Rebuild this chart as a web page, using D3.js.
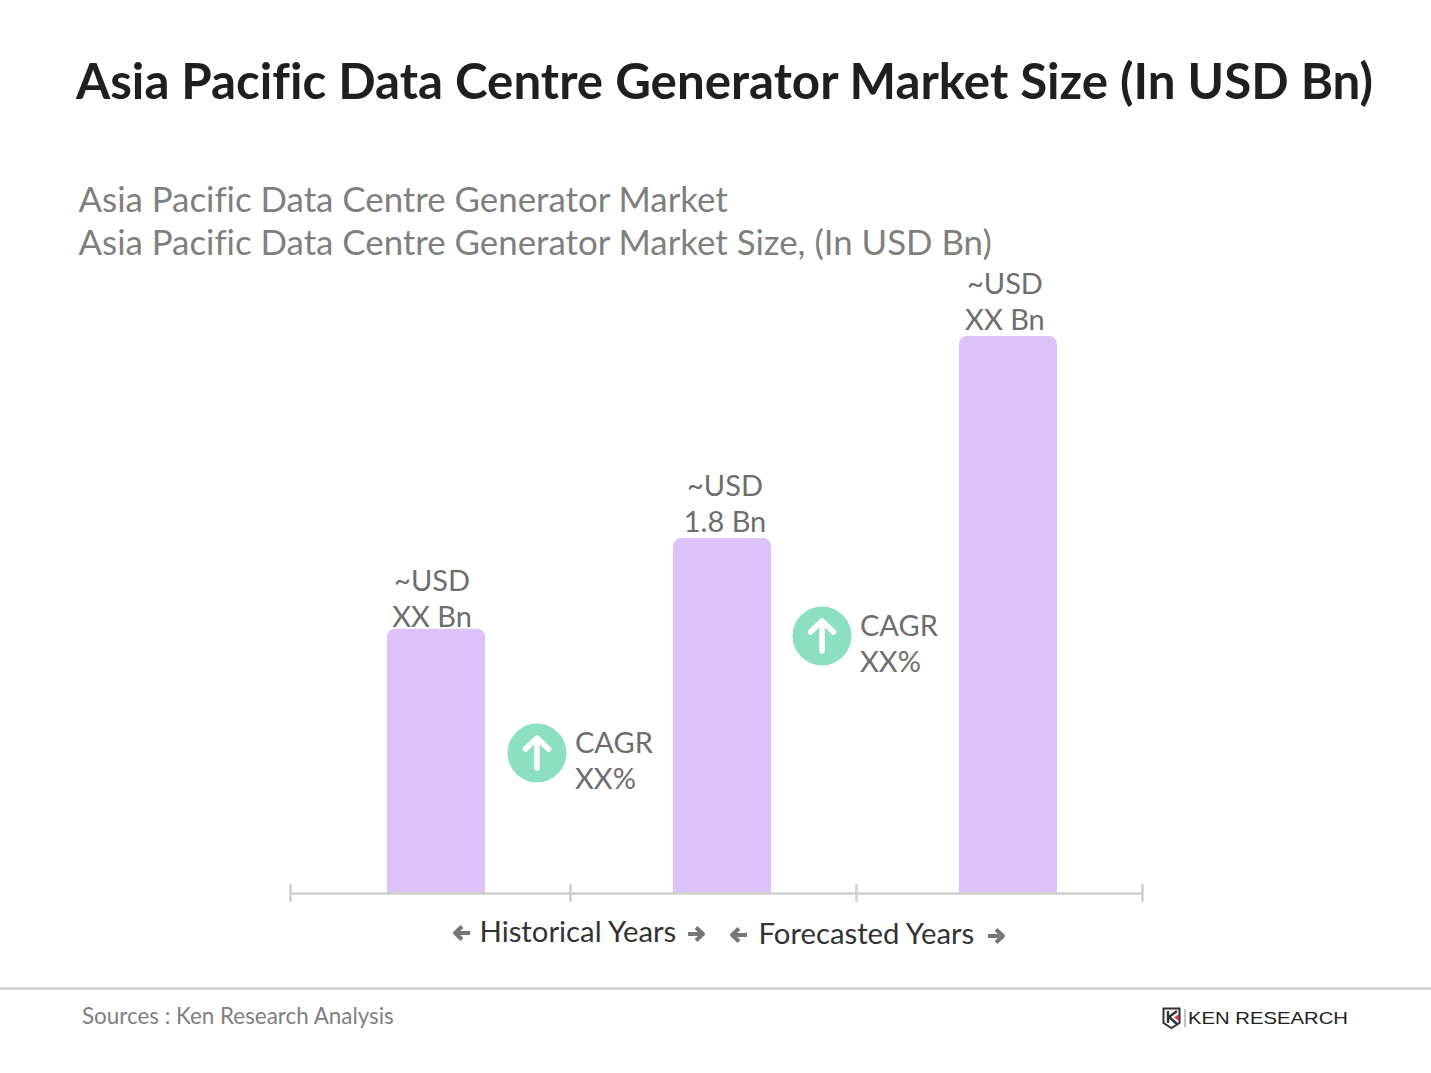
<!DOCTYPE html>
<html><head><meta charset="utf-8">
<script src="https://cdn.jsdelivr.net/npm/d3@7"></script>
<style>html,body{margin:0;padding:0;background:#fff}svg{display:block}text{font-family:Lato,sans-serif;font-variant-ligatures:none}</style>
</head><body><svg id="c" width="1431" height="1073"></svg>
<script>
const chartTitle = "Asia Pacific Data Centre Generator Market Size (In USD Bn)";
const subtitles = ["Asia Pacific Data Centre Generator Market", "Asia Pacific Data Centre Generator Market Size, (In USD Bn)"];
const categories = ["Base", "Current", "Forecast"];
const values = [1.34, 1.8, 2.825];
const barLabels = [["~USD", "XX Bn"], ["~USD", "1.8 Bn"], ["~USD", "XX Bn"]];
const cagrLabels = [["CAGR", "XX%"], ["CAGR", "XX%"]];
const periodLabels = ["Historical Years", "Forecasted Years"];
const source = "Sources : Ken Research Analysis";

const svg = d3.select("#c");
const baseY = 893;
const x = d3.scaleBand().domain(categories).range([293, 1151]).paddingInner(0.657).paddingOuter(0.3287);
const y = d3.scaleLinear().domain([0, 3]).range([baseY, baseY - 3 * 197.2]);
const edge = d3.scaleLinear().domain([0, 1, 3]).range([290, 570, 1142]);
const labelDx = [-4, 3, -3];
const labelDy = [-38, -42, -41.5];

svg.append("text").attr("x", 76).attr("y", 98.5).attr("font-size", 49.27).attr("font-weight", 700)
  .attr("fill", "#1f1f1f").text(chartTitle);
svg.append("g").selectAll("text").data(subtitles).join("text")
  .attr("x", 78.5).attr("y", (d, i) => 212 + i * 43).attr("font-size", 34.85).attr("fill", "#7f7f7f").text(d => d);

// bars
const r = 8;
svg.append("g").selectAll("path").data(categories).join("path")
  .attr("fill", "#dcc2f7")
  .attr("d", (c, i) => {
    const l = x(c), w = x.bandwidth(), t = y(values[i]);
    const p = d3.path();
    p.moveTo(l, baseY); p.lineTo(l, t + r); p.arcTo(l, t, l + r, t, r);
    p.lineTo(l + w - r, t); p.arcTo(l + w, t, l + w, t + r, r); p.lineTo(l + w, baseY); p.closePath();
    return p.toString();
  });

// bar labels
categories.forEach((c, i) => {
  const cx = x(c) + x.bandwidth() / 2 + labelDx[i];
  svg.append("g").selectAll("text").data(barLabels[i]).join("text")
    .attr("x", cx).attr("y", (d, k) => y(values[i]) + labelDy[i] + k * 36)
    .attr("text-anchor", "middle").attr("font-size", 29).attr("fill", "#6e6e6e").text(d => d);
});

// axis
const axis = d3.axisBottom(edge).tickValues([0, 1, 2, 3]).tickSize(0).tickFormat("");
const ag = svg.append("g").attr("transform", `translate(0,${baseY})`).call(axis);
ag.select(".domain").attr("stroke", "#cfcfcf").attr("stroke-width", 2.5);
ag.selectAll(".tick line").attr("y1", -9).attr("y2", 9).attr("stroke", "#cfcfcf").attr("stroke-width", 2.5);

// CAGR badges
[[537, 753], [822, 636]].forEach(([cx, cy], i) => {
  const g = svg.append("g").attr("transform", `translate(${cx},${cy})`);
  g.append("circle").attr("r", 29.5).attr("fill", "#8cdfc1");
  g.append("path").attr("d", "M0,15V-15M-11.5,-4L0,-15L11.5,-4").attr("fill", "none")
    .attr("stroke", "#fff").attr("stroke-width", 5.5).attr("stroke-linecap", "round").attr("stroke-linejoin", "round");
  svg.append("g").selectAll("text").data(cagrLabels[i]).join("text")
    .attr("x", cx + 38).attr("y", (d, k) => cy + k * 36)
    .attr("font-size", 29).attr("fill", "#6e6e6e").text(d => d);
});

// period labels
const arrow = (cx, cy, dir) => svg.append("path")
  .attr("transform", `translate(${cx},${cy}) scale(${dir},1)`)
  .attr("d", "M-8,0H7M0,-6.5L7,0L0,6.5").attr("fill", "none").attr("stroke", "#777")
  .attr("stroke-width", 4).attr("stroke-linejoin", "round");
svg.append("text").attr("x", 479.5).attr("y", 942).attr("font-size", 29.3).attr("fill", "#333").text(periodLabels[0]);
svg.append("text").attr("x", 758.5).attr("y", 944).attr("font-size", 29.3).attr("fill", "#333").text(periodLabels[1]);
arrow(462, 933, -1); arrow(696, 934, 1); arrow(739, 935, -1); arrow(996, 936, 1);

// footer
svg.append("line").attr("x1", 0).attr("x2", 1431).attr("y1", 988.5).attr("y2", 988.5).attr("stroke", "#cfcfcf").attr("stroke-width", 2.5);
svg.append("text").attr("x", 82).attr("y", 1024).attr("font-size", 22.4).attr("fill", "#7f7f7f").text(source);

// logo
const logo = svg.append("g").attr("transform", "translate(1163,1008)");
logo.append("path").attr("d", "M0.5,0.5H16.5V15L8.5,20L0.5,15Z").attr("fill", "none").attr("stroke", "#333").attr("stroke-width", 2);
logo.append("path").attr("d", "M5,3V15M14,3L6,9L14,16").attr("fill", "none").attr("stroke", "#333").attr("stroke-width", 2.4);
logo.append("path").attr("d", "M16,6L11,9.5L16,13Z").attr("fill", "#d9363e");
logo.append("line").attr("x1", 22).attr("x2", 22).attr("y1", 1).attr("y2", 19).attr("stroke", "#888").attr("stroke-width", 1);
svg.append("text").attr("x", 1188).attr("y", 1024).attr("font-size", 17).attr("fill", "#222")
  .attr("textLength", 160).attr("lengthAdjust", "spacingAndGlyphs").style("font-family", "'Liberation Sans'").text("KEN RESEARCH");
</script></body></html>
